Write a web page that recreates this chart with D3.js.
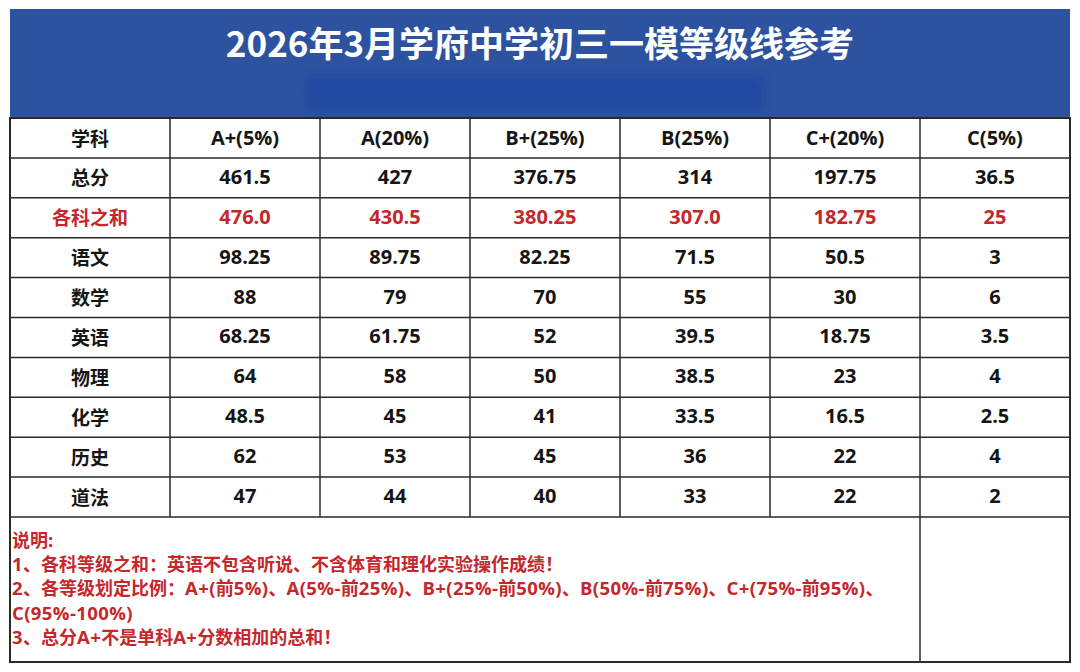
<!DOCTYPE html>
<html>
<head>
<meta charset="utf-8">
<script src="https://cdn.jsdelivr.net/npm/d3@7"></script>
<style>
  body { margin: 0; background: #fff; }
  svg text { font-weight: bold; }
  .cjk { font-family: "Noto Sans CJK SC", sans-serif; }
  .latin { font-family: "Open Sans", sans-serif; }
</style>
</head>
<body>
<script>
// data
var titleText = "2026年3月学府中学初三一模等级线参考";
var headerLabel = "学科";
var grades = ["A+(5%)", "A(20%)", "B+(25%)", "B(25%)", "C+(20%)", "C(5%)"];
var subjects = ["总分", "各科之和", "语文", "数学", "英语", "物理", "化学", "历史", "道法"];
var totalScore = ["461.5", "427", "376.75", "314", "197.75", "36.5"];
var sumOfSubjects = ["476.0", "430.5", "380.25", "307.0", "182.75", "25"];
var chineseScores = ["98.25", "89.75", "82.25", "71.5", "50.5", "3"];
var mathScores = ["88", "79", "70", "55", "30", "6"];
var englishScores = ["68.25", "61.75", "52", "39.5", "18.75", "3.5"];
var physicsScores = ["64", "58", "50", "38.5", "23", "4"];
var chemistryScores = ["48.5", "45", "41", "33.5", "16.5", "2.5"];
var historyScores = ["62", "53", "45", "36", "22", "4"];
var moralityScores = ["47", "44", "40", "33", "22", "2"];
var redRows = ["各科之和"];
var notes = [
  "说明:",
  "1、各科等级之和：英语不包含听说、不含体育和理化实验操作成绩！",
  "2、各等级划定比例：A+(前5%)、A(5%-前25%)、B+(25%-前50%)、B(50%-前75%)、C+(75%-前95%)、",
  "C(95%-100%)",
  "3、总分A+不是单科A+分数相加的总和！"
];

(function(){

var rowValues = [totalScore, sumOfSubjects, chineseScores, mathScores, englishScores,
  physicsScores, chemistryScores, historyScores, moralityScores];

var width = 1080, height = 672;
var left = 10, right = 1070, firstColW = 160;
var bannerTop = 9, headTop = 118, tableBottom = 517, bottom = 662;
var blue = "#2c52a0", red = "#c4272c", ink = "#151515";
var cjkSize = 19, latinSize = 20;

var svg = d3.select("body").append("svg")
  .attr("width", width)
  .attr("height", height);

var defs = svg.append("defs");
defs.append("filter").attr("id", "blur")
  .attr("x", "-10%").attr("y", "-30%").attr("width", "120%").attr("height", "160%")
  .append("feGaussianBlur").attr("stdDeviation", 4);

//scales
var x = d3.scaleBand()
  .domain(grades)
  .range([left + firstColW, right]);

var rows = [headerLabel].concat(subjects);
var y = d3.scaleBand()
  .domain(rows)
  .range([headTop, tableBottom]);

function mid(r){ return y(r) + y.bandwidth() / 2; }

//blue banner
svg.append("rect")
  .attr("x", left).attr("y", bannerTop)
  .attr("width", right - left).attr("height", headTop - bannerTop)
  .attr("fill", blue);

//blurred subtitle patch
svg.append("rect")
  .attr("x", 306).attr("y", 76)
  .attr("width", 458).attr("height", 34)
  .attr("fill", "#2449a1")
  .attr("filter", "url(#blur)");

svg.append("text")
  .attr("class", "cjk")
  .attr("x", width / 2)
  .attr("y", 57)
  .attr("text-anchor", "middle")
  .attr("fill", "#fff")
  .style("font-size", "35px")
  .text(titleText);

//cells text
var g = svg.append("g").attr("fill", ink);

g.append("text")
  .attr("class", "cjk")
  .attr("x", left + firstColW / 2)
  .attr("y", mid(headerLabel) + 8.5)
  .attr("text-anchor", "middle")
  .style("font-size", cjkSize + "px")
  .text(headerLabel);

g.selectAll(".gradeLabel")
  .data(grades)
  .enter()
  .append("text")
  .attr("class", "gradeLabel latin")
  .attr("x", function(d){ return x(d) + x.bandwidth() / 2; })
  .attr("y", mid(headerLabel) + 7.5)
  .attr("text-anchor", "middle")
  .style("font-size", latinSize + "px")
  .text(function(d){ return d; });

var rowG = g.selectAll(".row")
  .data(subjects)
  .enter()
  .append("g")
  .attr("class", "row")
  .attr("transform", function(d){ return "translate(0," + mid(d) + ")"; })
  .attr("fill", function(d){ return redRows.indexOf(d) >= 0 ? red : ink; });

rowG.append("text")
  .attr("class", "cjk")
  .attr("x", left + firstColW / 2)
  .attr("y", 7.5)
  .attr("text-anchor", "middle")
  .style("font-size", cjkSize + "px")
  .text(function(d){ return d; });

rowG.selectAll(".val")
  .data(function(d, i){ return rowValues[i]; })
  .enter()
  .append("text")
  .attr("class", "val latin")
  .attr("x", function(d, i){ return x(grades[i]) + x.bandwidth() / 2; })
  .attr("y", 6)
  .attr("text-anchor", "middle")
  .style("font-size", latinSize + "px")
  .text(function(d){ return d; });

//grid lines
var lines = svg.append("g")
  .attr("stroke", "#2a2a2a")
  .attr("stroke-width", 1.5);

rows.slice(1).concat(["end"]).forEach(function(r){
  var yy = r === "end" ? tableBottom : y(r);
  lines.append("line")
    .attr("x1", left).attr("x2", right)
    .attr("y1", yy).attr("y2", yy);
});

lines.append("line")
  .attr("x1", left + firstColW).attr("x2", left + firstColW)
  .attr("y1", headTop).attr("y2", tableBottom);
grades.slice(1).forEach(function(gr){
  var last = gr === grades[grades.length - 1];
  lines.append("line")
    .attr("x1", x(gr)).attr("x2", x(gr))
    .attr("y1", headTop)
    .attr("y2", last ? bottom : tableBottom);
});

//outer border
svg.append("rect")
  .attr("x", left).attr("y", headTop)
  .attr("width", right - left).attr("height", bottom - headTop)
  .attr("fill", "none")
  .attr("stroke", "#2a2a2a")
  .attr("stroke-width", 2);

//notes, split into cjk / latin runs
var cjkRe = /[\u3000-\u303f\u4e00-\u9fff\uff00-\uffef]/;
function runs(str){
  var out = [], cur = "", curCjk = null;
  for (var i = 0; i < str.length; i++){
    var c = cjkRe.test(str[i]);
    if (curCjk !== null && c !== curCjk){ out.push({t: cur, cjk: curCjk}); cur = ""; }
    cur += str[i]; curCjk = c;
  }
  if (cur) out.push({t: cur, cjk: curCjk});
  return out;
}

var noteText = svg.append("g").attr("fill", red).selectAll("text")
  .data(notes)
  .enter()
  .append("text")
  .attr("x", 12)
  .attr("y", function(d, i){ return 547 + i * 24.2; });

noteText.selectAll("tspan")
  .data(function(d){ return runs(d); })
  .enter()
  .append("tspan")
  .attr("class", function(d){ return d.cjk ? "cjk" : "latin"; })
  .style("font-size", function(d){ return d.cjk ? "18px" : "18.5px"; })
  .style("letter-spacing", function(d){ return d.cjk ? null : "0.4px"; })
  .text(function(d){ return d.t; });

})();
</script>
</body>
</html>
